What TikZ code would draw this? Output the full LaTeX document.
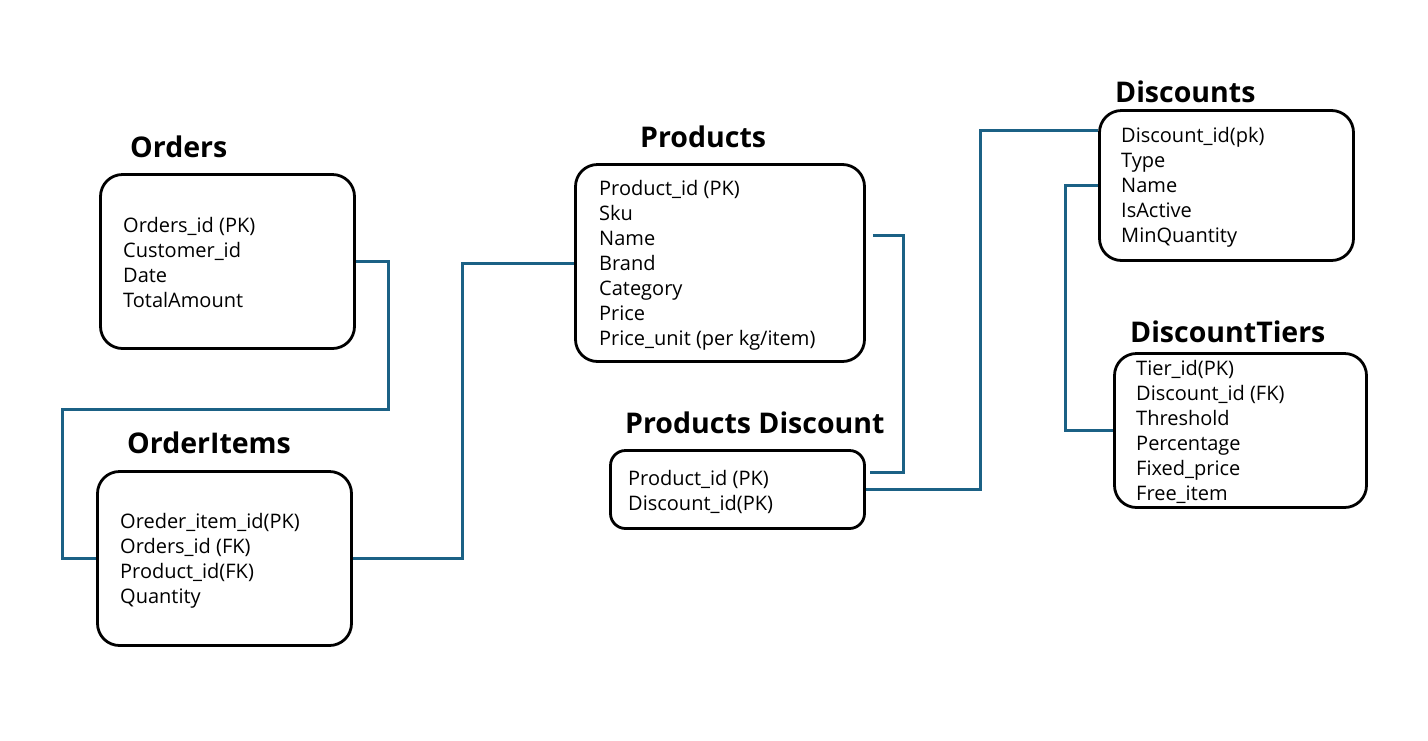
\documentclass[tikz,border=0pt]{standalone}
\usepackage{fontspec}
\setmainfont{Open Sans}
\usetikzlibrary{calc}
\definecolor{linkc}{HTML}{1B6185}
\begin{document}
\begin{tikzpicture}[x=1pt,y=-1pt,
  tbl/.style={draw=black, line width=2.8pt, rounded corners=22pt, inner sep=0pt},
  ttl/.style={anchor=base west, inner sep=0pt, font=\fontsize{28.5}{31}\selectfont\bfseries},
  fld/.style={anchor=base west, inner sep=0pt, font=\fontsize{20}{25}\selectfont},
  link/.style={draw=linkc, line width=3pt}]
\useasboundingbox[fill=white] (0,0) rectangle (1428,740);

% boxes
\node[tbl, minimum width=254pt, minimum height=174pt] (orders) at (227.5,261.5) {};
\node[tbl, minimum width=254pt, minimum height=174pt] (orderitems) at (224.5,558.5) {};
\node[tbl, minimum width=289pt, minimum height=197pt] (products) at (720,263) {};
\node[tbl, minimum width=254pt, minimum height=78pt, rounded corners=15pt] (pd) at (737.5,489.5) {};
\node[tbl, minimum width=254pt, minimum height=150pt] (discounts) at (1226.5,185.5) {};
\node[tbl, minimum width=252pt, minimum height=154pt] (tiers) at (1240.5,430.5) {};

% titles
\node[ttl] (orders-t) at (130,157) {Orders};
\node[ttl] (orderitems-t) at (127,453) {OrderItems};
\node[ttl] (products-t) at (640,147) {Products};
\node[ttl] (pd-t) at (625,433) {Products Discount};
\node[ttl] (discounts-t) at (1115,102) {Discounts};
\node[ttl] (tiers-t) at (1130,342) {DiscountTiers};

% fields
\node[fld] (orders-f) at (123,232) {\begin{tabular}[t]{@{}l@{}}Orders\_id (PK)\\Customer\_id\\Date\\TotalAmount\end{tabular}};
\node[fld] (orderitems-f) at (120,528) {\begin{tabular}[t]{@{}l@{}}Oreder\_item\_id(PK)\\Orders\_id (FK)\\Product\_id(FK)\\Quantity\end{tabular}};
\node[fld] (products-f) at (599,195) {\begin{tabular}[t]{@{}l@{}}Product\_id (PK)\\Sku\\Name\\Brand\\Category\\Price\\Price\_unit (per kg/item)\end{tabular}};
\node[fld] (pd-f) at (628,485) {\begin{tabular}[t]{@{}l@{}}Product\_id (PK)\\Discount\_id(PK)\end{tabular}};
\node[fld] (discounts-f) at (1121,142) {\begin{tabular}[t]{@{}l@{}}Discount\_id(pk)\\Type\\Name\\IsActive\\MinQuantity\end{tabular}};
\node[fld] (tiers-f) at (1136,375) {\begin{tabular}[t]{@{}l@{}}Tier\_id(PK)\\Discount\_id (FK)\\Threshold\\Percentage\\Fixed\_price\\Free\_item\end{tabular}};

% connectors
\draw[link] (orders.east) -- ++(33,0) |- (62,409) |- (orderitems.west);
\draw[link] (orderitems.east) -- ++(110,0) |- (products.west);
\draw[link] ($(products.north east)+(7,72)$) -- ++(31,0) |- ($(pd.east)+(4,-17)$);
\draw[link] (pd.east) -- ++(115,0) |- ($(discounts.north west)+(0,21)$);
\draw[link] (discounts.west) -- ++(-33,0) |- (tiers.west);
\end{tikzpicture}
\end{document}
